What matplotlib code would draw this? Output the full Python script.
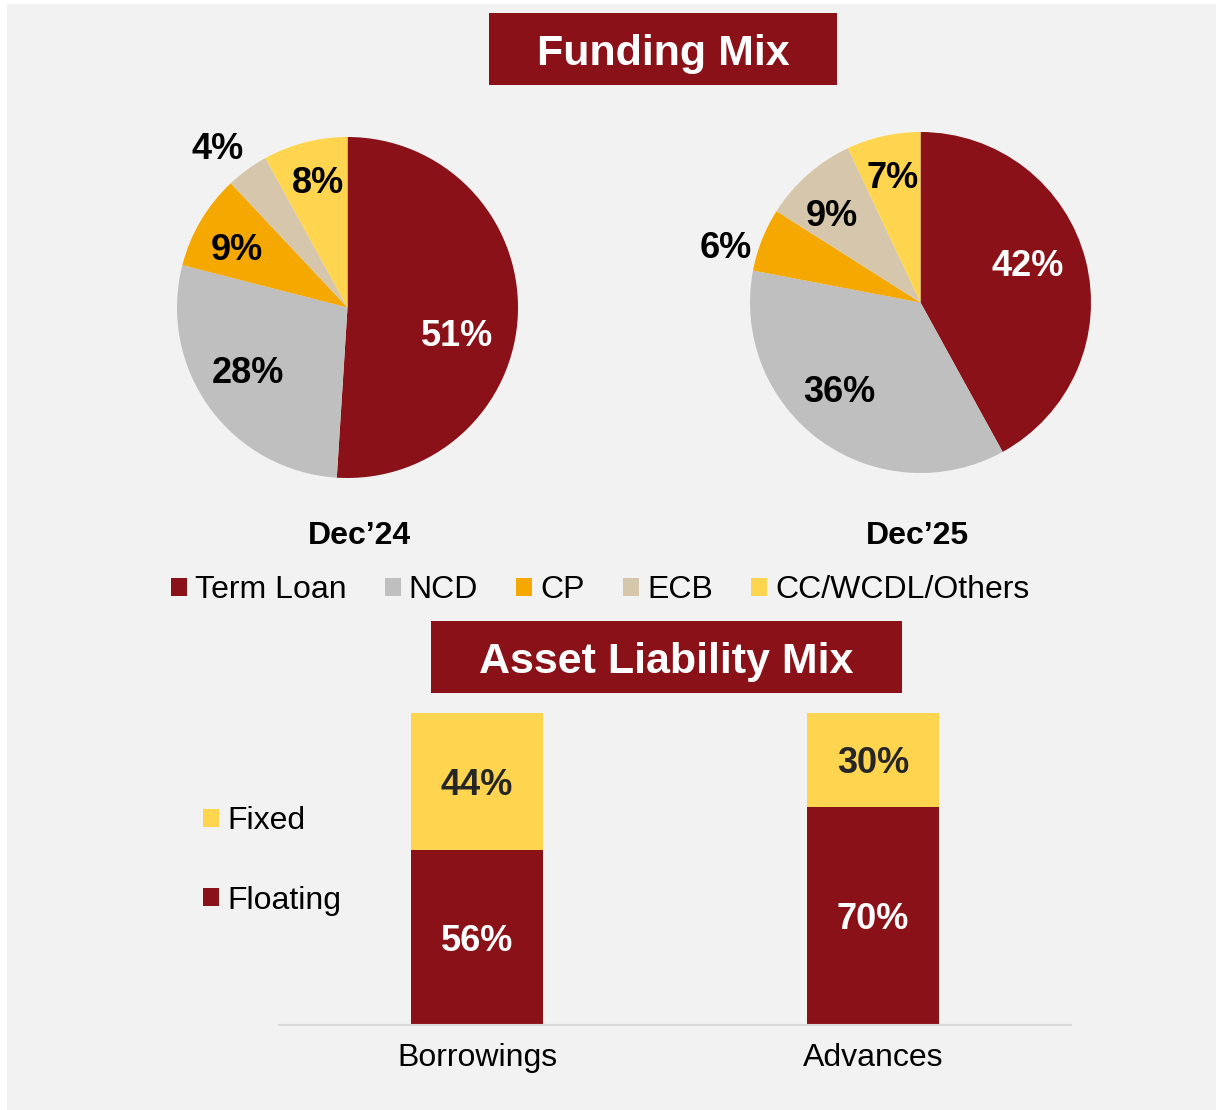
''' funding mix and asset liability mix chart
'''
import numpy as np
import matplotlib
import matplotlib.pyplot as plt
from matplotlib.patches import Patch, Rectangle

matplotlib.use('Agg')

plt.rcParams['font.family'] = ['Liberation Sans', 'DejaVu Sans']

# data
funding_labels = ['Term Loan', 'NCD', 'CP', 'ECB', 'CC/WCDL/Others']
dec24_mix = [51, 28, 9, 4, 8]
dec25_mix = [42, 36, 6, 9, 7]
period_labels = ['Dec\u201924', 'Dec\u201925']

alm_categories = ['Borrowings', 'Advances']
floating_share = [56, 70]
fixed_share = [44, 30]

# styles
RED = '#8B1118'
GREY = '#BFBFBF'
ORANGE = '#F5A800'
BEIGE = '#D6C7AC'
YELLOW = '#FFD54F'
BG = '#F2F2F2'
pie_colors = [RED, GREY, ORANGE, BEIGE, YELLOW]
pie_text_colors = ['white', 'black', 'black', 'black', 'black']

W, H = 1216, 1110
fig = plt.figure(figsize=(W / 100, H / 100), dpi=100, facecolor='white')


def fx(px):
    return px / W


def fy(py):
    return 1 - py / H


# grey background panel
fig.patches.append(Rectangle((fx(7), 0), 1 - fx(7), fy(4), transform=fig.transFigure,
                             facecolor=BG, edgecolor='none', zorder=-10))


def title_box(x0, x1, y0, y1, text):
    fig.patches.append(Rectangle((fx(x0), fy(y1)), fx(x1) - fx(x0), fy(y0) - fy(y1),
                                 transform=fig.transFigure, facecolor=RED,
                                 edgecolor='none', zorder=1))
    fig.text(fx((x0 + x1) / 2), fy(y0 + 52), text, color='white', fontsize=31,
             fontweight='bold', ha='center', va='baseline', zorder=2)


title_box(489, 837, 13, 85, 'Funding Mix')
title_box(431, 902, 621, 693, 'Asset Liability Mix')

# pies: label radius (fraction of radius) and angle nudge (deg) per slice
R = 170.5
pie_specs = [
    ((347.5, 307.5), dec24_mix, [0.66, 0.69, 0.74, 1.22, 0.77],
     [-10.8, -4.1, 1.5, 2.8, -1.4], (359, 533)),
    ((920.5, 302.5), dec25_mix, [0.67, 0.69, 1.19, 0.74, 0.77],
     [6.2, -7.3, 4.9, 3.0, -0.4], (917, 533)),
]

for (cx, cy), values, dists, nudges, lab_pos in pie_specs:
    ax = fig.add_axes([fx(cx - R), fy(cy + R), 2 * R / W, 2 * R / H])
    ax.set_facecolor('none')
    wedges, _ = ax.pie(values, colors=pie_colors, startangle=90, counterclock=False,
                       radius=1, wedgeprops=dict(linewidth=0))
    ax.set_xlim(-1, 1)
    ax.set_ylim(-1, 1)
    ax.axis('off')
    for i, (w, v) in enumerate(zip(wedges, values)):
        ang = np.deg2rad((w.theta1 + w.theta2) / 2 + nudges[i])
        d = dists[i]
        color = pie_text_colors[i] if d < 1 else 'black'
        ax.text(d * np.cos(ang), d * np.sin(ang), f'{v}%', ha='center',
                va='center_baseline', fontsize=26, fontweight='bold', color=color)

for lab, spec in zip(period_labels, pie_specs):
    pos = spec[4]
    fig.text(fx(pos[0]), fy(pos[1]), lab, fontsize=23, fontweight='bold',
             ha='center', va='center_baseline')

pie_handles = [Patch(facecolor=c, edgecolor='none') for c in pie_colors]
fig.legend(pie_handles, funding_labels, loc='center', bbox_to_anchor=(fx(600), fy(590)),
           ncol=5, frameon=False, fontsize=23, handlelength=0.5, handleheight=0.5,
           handletextpad=0.25, columnspacing=1.2)

# stacked bars
ax = fig.add_axes([fx(279), fy(1025), fx(1071) - fx(279), (1025 - 713) / H])
ax.set_facecolor('none')
x = np.arange(len(alm_categories))
bar_w = 0.333
b1 = ax.bar(x, floating_share, bar_w, color=RED, label='Floating')
b2 = ax.bar(x, fixed_share, bar_w, bottom=floating_share, color=YELLOW, label='Fixed')
for xi, fl, fi in zip(x, floating_share, fixed_share):
    ax.text(xi, fl / 2, f'{fl}%', ha='center', va='center_baseline', fontsize=26,
            fontweight='bold', color='white')
    ax.text(xi, fl + fi / 2, f'{fi}%', ha='center', va='center_baseline', fontsize=26,
            fontweight='bold', color='#262626')
ax.set_xlim(-0.5, 1.5)
ax.set_ylim(0, 100)
ax.set_xticks(x)
ax.set_xticklabels(alm_categories, fontsize=23)
ax.tick_params(axis='x', length=0, pad=13)
ax.set_yticks([])
for s in ['top', 'left', 'right']:
    ax.spines[s].set_visible(False)
ax.spines['bottom'].set_color('#D9D9D9')
ax.spines['bottom'].set_linewidth(1.5)

fig.legend([b2, b1], ['Fixed', 'Floating'], loc='upper left',
           bbox_to_anchor=(fx(203), fy(806)), frameon=False, fontsize=23,
           handlelength=0.5, handleheight=0.5, handletextpad=0.25, labelspacing=1.55,
           borderpad=0, borderaxespad=0)

plt.savefig('out.png', dpi=100, facecolor=fig.get_facecolor())
plt.close()
